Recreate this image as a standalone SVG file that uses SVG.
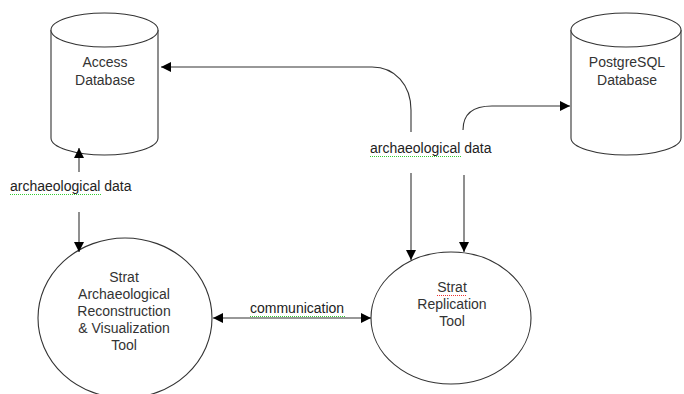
<svg xmlns="http://www.w3.org/2000/svg" width="684" height="394" viewBox="0 0 684 394">
<style>
.shape{fill:#fff;stroke:#333;stroke-width:1.1}
.lbl{font-family:"Liberation Sans",Arial,sans-serif;font-size:14px;fill:#222}
.nt{font-family:"Liberation Sans",Arial,sans-serif;font-size:14px;fill:#333;text-anchor:middle}
.conn{fill:none;stroke:#333;stroke-width:1.1}
.sqg{fill:none;stroke:#3c3;stroke-width:1;stroke-dasharray:1 1}
.sqr{fill:none;stroke:#e33;stroke-width:1;stroke-dasharray:1 1}
</style>
<defs>
<marker id="ah" viewBox="0 0 10 10" refX="10" refY="5" markerWidth="10" markerHeight="10" markerUnits="userSpaceOnUse" orient="auto">
<path d="M0,0 L10,5 L0,10 z" fill="#000"/>
</marker>
</defs>
<rect width="684" height="394" fill="#fff"/>

<g id="access-db">
<path class="shape" d="M51,30 V138 A53.5,17 0 0 0 158,138 V30"/>
<ellipse class="shape" cx="104.5" cy="30" rx="53.5" ry="17"/>
<text class="nt" x="105" y="67">Access</text>
<text class="nt" x="105" y="85">Database</text>
</g>

<g id="postgres-db">
<path class="shape" d="M571,30 V138 A55,17 0 0 0 681,138 V30"/>
<ellipse class="shape" cx="626" cy="30" rx="55" ry="17"/>
<text class="nt" x="627" y="67">PostgreSQL</text>
<text class="nt" x="627" y="85">Database</text>
</g>

<g id="strat-arv">
<ellipse class="shape" cx="125" cy="318" rx="87" ry="80"/>
<text class="nt" x="124" y="282">Strat</text>
<text class="nt" x="124" y="299">Archaeological</text>
<text class="nt" x="124" y="316">Reconstruction</text>
<text class="nt" x="124" y="333">&amp; Visualization</text>
<text class="nt" x="124" y="350">Tool</text>
</g>

<g id="strat-replication">
<ellipse class="shape" cx="451" cy="318" rx="80" ry="66"/>
<text class="nt" x="452" y="292">Strat</text>
<text class="nt" x="452" y="309">Replication</text>
<text class="nt" x="452" y="326">Tool</text>
<path class="sqr" d="M437,295.5 H467"/>
</g>

<g id="connectors">
<path class="conn" d="M79,172 V148" marker-end="url(#ah)"/>
<path class="conn" d="M79,212 V252" marker-end="url(#ah)"/>
<path class="conn" d="M411,132 V110 C411,85 395,67 372,67 H161" marker-end="url(#ah)"/>
<path class="conn" d="M411,173 V260" marker-end="url(#ah)"/>
<path class="conn" d="M463,130 C463,112 475,106 492,106 H570" marker-end="url(#ah)"/>
<path class="conn" d="M464,175 V252" marker-end="url(#ah)"/>
<path class="conn" d="M292,318 H213" marker-end="url(#ah)"/>
<path class="conn" d="M292,318 H371" marker-end="url(#ah)"/>
<text class="lbl" x="10" y="191">archaeological data</text>
<path class="sqg" d="M10,194.5 H101"/>
<text class="lbl" x="370" y="153">archaeological data</text>
<path class="sqg" d="M370,156.5 H461"/>
<text class="lbl" x="250" y="313">communication</text>
<path class="sqg" d="M250,316.5 H346"/>
</g>
</svg>
